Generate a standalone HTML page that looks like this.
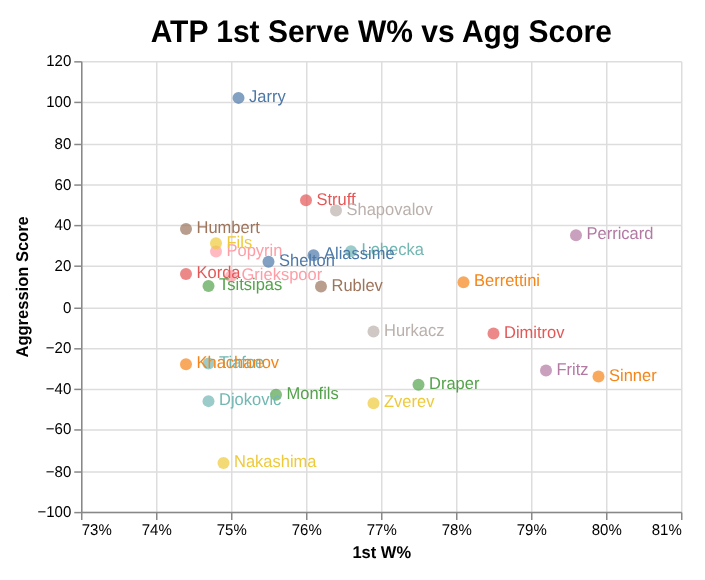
<!DOCTYPE html>
<html lang="en"><head><meta charset="utf-8"><title>ATP 1st Serve W% vs Agg Score</title>
<style>html,body{margin:0;padding:0;background:#fff}svg{display:block}text{font-family:"Liberation Sans",Arial,Helvetica,sans-serif;text-rendering:geometricPrecision}</style></head><body>
<svg width="705" height="580" viewBox="0 0 705 580">
<rect width="705" height="580" fill="#fff"/>
<g stroke="#ddd" stroke-width="1.5" fill="none">
<line x1="81.75" y1="61.85" x2="81.75" y2="512.6"/>
<line x1="156.75" y1="61.85" x2="156.75" y2="512.6"/>
<line x1="231.75" y1="61.85" x2="231.75" y2="512.6"/>
<line x1="306.75" y1="61.85" x2="306.75" y2="512.6"/>
<line x1="381.75" y1="61.85" x2="381.75" y2="512.6"/>
<line x1="456.75" y1="61.85" x2="456.75" y2="512.6"/>
<line x1="531.75" y1="61.85" x2="531.75" y2="512.6"/>
<line x1="606.75" y1="61.85" x2="606.75" y2="512.6"/>
<line x1="681.75" y1="61.85" x2="681.75" y2="512.6"/>
<line x1="81.75" y1="61.85" x2="681.75" y2="61.85"/>
<line x1="81.75" y1="102.42" x2="681.75" y2="102.42"/>
<line x1="81.75" y1="144.49" x2="681.75" y2="144.49"/>
<line x1="81.75" y1="185.06" x2="681.75" y2="185.06"/>
<line x1="81.75" y1="225.62" x2="681.75" y2="225.62"/>
<line x1="81.75" y1="266.19" x2="681.75" y2="266.19"/>
<line x1="81.75" y1="308.26" x2="681.75" y2="308.26"/>
<line x1="81.75" y1="348.83" x2="681.75" y2="348.83"/>
<line x1="81.75" y1="389.4" x2="681.75" y2="389.4"/>
<line x1="81.75" y1="429.96" x2="681.75" y2="429.96"/>
<line x1="81.75" y1="472.03" x2="681.75" y2="472.03"/>
<line x1="81.75" y1="512.6" x2="681.75" y2="512.6"/>
</g>
<g stroke="#888" stroke-width="1.5" fill="none">
<line x1="81.75" y1="512.6" x2="81.75" y2="520.1"/>
<line x1="156.75" y1="512.6" x2="156.75" y2="520.1"/>
<line x1="231.75" y1="512.6" x2="231.75" y2="520.1"/>
<line x1="306.75" y1="512.6" x2="306.75" y2="520.1"/>
<line x1="381.75" y1="512.6" x2="381.75" y2="520.1"/>
<line x1="456.75" y1="512.6" x2="456.75" y2="520.1"/>
<line x1="531.75" y1="512.6" x2="531.75" y2="520.1"/>
<line x1="606.75" y1="512.6" x2="606.75" y2="520.1"/>
<line x1="681.75" y1="512.6" x2="681.75" y2="520.1"/>
<line x1="74.25" y1="61.85" x2="81.75" y2="61.85"/>
<line x1="74.25" y1="102.42" x2="81.75" y2="102.42"/>
<line x1="74.25" y1="144.49" x2="81.75" y2="144.49"/>
<line x1="74.25" y1="185.06" x2="81.75" y2="185.06"/>
<line x1="74.25" y1="225.62" x2="81.75" y2="225.62"/>
<line x1="74.25" y1="266.19" x2="81.75" y2="266.19"/>
<line x1="74.25" y1="308.26" x2="81.75" y2="308.26"/>
<line x1="74.25" y1="348.83" x2="81.75" y2="348.83"/>
<line x1="74.25" y1="389.4" x2="81.75" y2="389.4"/>
<line x1="74.25" y1="429.96" x2="81.75" y2="429.96"/>
<line x1="74.25" y1="472.03" x2="81.75" y2="472.03"/>
<line x1="74.25" y1="512.6" x2="81.75" y2="512.6"/>
<line x1="81.75" y1="512.6" x2="681.75" y2="512.6"/>
<line x1="81.75" y1="61.85" x2="81.75" y2="512.6"/>
</g>
<g font-size="15" fill="#000">
<text transform="translate(81.75,534.95) scale(1,1.04)" text-anchor="start">73%</text>
<text transform="translate(156.75,534.95) scale(1,1.04)" text-anchor="middle">74%</text>
<text transform="translate(231.75,534.95) scale(1,1.04)" text-anchor="middle">75%</text>
<text transform="translate(306.75,534.95) scale(1,1.04)" text-anchor="middle">76%</text>
<text transform="translate(381.75,534.95) scale(1,1.04)" text-anchor="middle">77%</text>
<text transform="translate(456.75,534.95) scale(1,1.04)" text-anchor="middle">78%</text>
<text transform="translate(531.75,534.95) scale(1,1.04)" text-anchor="middle">79%</text>
<text transform="translate(606.75,534.95) scale(1,1.04)" text-anchor="middle">80%</text>
<text transform="translate(681.75,534.95) scale(1,1.04)" text-anchor="end">81%</text>
<text transform="translate(71.25,66.35) scale(1,1.04)" text-anchor="end">120</text>
<text transform="translate(71.25,106.92) scale(1,1.04)" text-anchor="end">100</text>
<text transform="translate(71.25,148.99) scale(1,1.04)" text-anchor="end">80</text>
<text transform="translate(71.25,189.56) scale(1,1.04)" text-anchor="end">60</text>
<text transform="translate(71.25,230.12) scale(1,1.04)" text-anchor="end">40</text>
<text transform="translate(71.25,270.69) scale(1,1.04)" text-anchor="end">20</text>
<text transform="translate(71.25,312.76) scale(1,1.04)" text-anchor="end">0</text>
<text transform="translate(71.25,353.33) scale(1,1.04)" text-anchor="end">−20</text>
<text transform="translate(71.25,393.9) scale(1,1.04)" text-anchor="end">−40</text>
<text transform="translate(71.25,434.46) scale(1,1.04)" text-anchor="end">−60</text>
<text transform="translate(71.25,476.53) scale(1,1.04)" text-anchor="end">−80</text>
<text transform="translate(71.25,517.1) scale(1,1.04)" text-anchor="end">−100</text>
</g>
<text transform="translate(381.75,558) scale(1,1.03)" text-anchor="middle" font-size="16.5" font-weight="bold" fill="#000">1st W%</text>
<text transform="translate(27.9,286.85) rotate(-90) scale(1,1.03)" text-anchor="middle" font-size="16.5" font-weight="bold" fill="#000">Aggression Score</text>
<text transform="translate(381.3,42) scale(1,1.045)" text-anchor="middle" font-size="30" font-weight="bold" fill="#000">ATP 1st Serve W% vs Agg Score</text>
<g fill-opacity="0.7">
<circle cx="598.5" cy="376.55" r="6.0" fill="#f58518"/>
<circle cx="373.5" cy="403.18" r="6.0" fill="#eeca3b"/>
<circle cx="546" cy="370.4" r="6.0" fill="#b279a2"/>
<circle cx="208.5" cy="401.13" r="6.0" fill="#72b7b2"/>
<circle cx="418.5" cy="384.74" r="6.0" fill="#54a24b"/>
<circle cx="321" cy="286.39" r="6.0" fill="#9d755d"/>
<circle cx="493.5" cy="333.52" r="6.0" fill="#e45756"/>
<circle cx="208.5" cy="285.98" r="6.0" fill="#54a24b"/>
<circle cx="373.5" cy="331.47" r="6.0" fill="#bab0ac"/>
<circle cx="208.5" cy="363.56" r="6.0" fill="#72b7b2"/>
<circle cx="186" cy="364.25" r="6.0" fill="#f58518"/>
<circle cx="186" cy="229.02" r="6.0" fill="#9d755d"/>
<circle cx="216" cy="251.56" r="6.0" fill="#ff9da6"/>
<circle cx="216" cy="243.36" r="6.0" fill="#eeca3b"/>
<circle cx="351" cy="251.15" r="6.0" fill="#72b7b2"/>
<circle cx="313.5" cy="255.25" r="6.0" fill="#4c78a8"/>
<circle cx="268.5" cy="261.8" r="6.0" fill="#4c78a8"/>
<circle cx="231" cy="276.14" r="6.0" fill="#ff9da6"/>
<circle cx="186" cy="274.1" r="6.0" fill="#e45756"/>
<circle cx="463.5" cy="282.29" r="6.0" fill="#f58518"/>
<circle cx="576" cy="235.16" r="6.0" fill="#b279a2"/>
<circle cx="306" cy="200.33" r="6.0" fill="#e45756"/>
<circle cx="336" cy="210.58" r="6.0" fill="#bab0ac"/>
<circle cx="276" cy="394.78" r="6.0" fill="#54a24b"/>
<circle cx="223.5" cy="462.91" r="6.0" fill="#eeca3b"/>
<circle cx="238.5" cy="97.88" r="6.0" fill="#4c78a8"/>
</g>
<g font-size="16.5">
<text transform="translate(609,380.75) scale(1,1.03)" fill="#f58518">Sinner</text>
<text transform="translate(384,407.38) scale(1,1.03)" fill="#eeca3b">Zverev</text>
<text transform="translate(556.5,374.6) scale(1,1.03)" fill="#b279a2">Fritz</text>
<text transform="translate(219,405.33) scale(1,1.03)" fill="#72b7b2">Djokovic</text>
<text transform="translate(429,388.94) scale(1,1.03)" fill="#54a24b">Draper</text>
<text transform="translate(331.5,290.59) scale(1,1.03)" fill="#9d755d">Rublev</text>
<text transform="translate(504,337.72) scale(1,1.03)" fill="#e45756">Dimitrov</text>
<text transform="translate(219,290.18) scale(1,1.03)" fill="#54a24b">Tsitsipas</text>
<text transform="translate(384,335.67) scale(1,1.03)" fill="#bab0ac">Hurkacz</text>
<text transform="translate(219,367.76) scale(1,1.03)" fill="#72b7b2">Tiafoe</text>
<text transform="translate(196.5,368.45) scale(1,1.03)" fill="#f58518">Khachanov</text>
<text transform="translate(196.5,233.22) scale(1,1.03)" fill="#9d755d">Humbert</text>
<text transform="translate(226.5,255.76) scale(1,1.03)" fill="#ff9da6">Popyrin</text>
<text transform="translate(226.5,247.56) scale(1,1.03)" fill="#eeca3b">Fils</text>
<text transform="translate(361.5,255.35) scale(1,1.03)" fill="#72b7b2">Lehecka</text>
<text transform="translate(324,259.45) scale(1,1.03)" fill="#4c78a8">Aliassime</text>
<text transform="translate(279,266) scale(1,1.03)" fill="#4c78a8">Shelton</text>
<text transform="translate(241.5,280.34) scale(1,1.03)" fill="#ff9da6">Griekspoor</text>
<text transform="translate(196.5,278.3) scale(1,1.03)" fill="#e45756">Korda</text>
<text transform="translate(474,286.49) scale(1,1.03)" fill="#f58518">Berrettini</text>
<text transform="translate(586.5,239.36) scale(1,1.03)" fill="#b279a2">Perricard</text>
<text transform="translate(316.5,204.53) scale(1,1.03)" fill="#e45756">Struff</text>
<text transform="translate(346.5,214.78) scale(1,1.03)" fill="#bab0ac">Shapovalov</text>
<text transform="translate(286.5,398.98) scale(1,1.03)" fill="#54a24b">Monfils</text>
<text transform="translate(234,467.11) scale(1,1.03)" fill="#eeca3b">Nakashima</text>
<text transform="translate(249,102.08) scale(1,1.03)" fill="#4c78a8">Jarry</text>
</g>
</svg></body></html>
